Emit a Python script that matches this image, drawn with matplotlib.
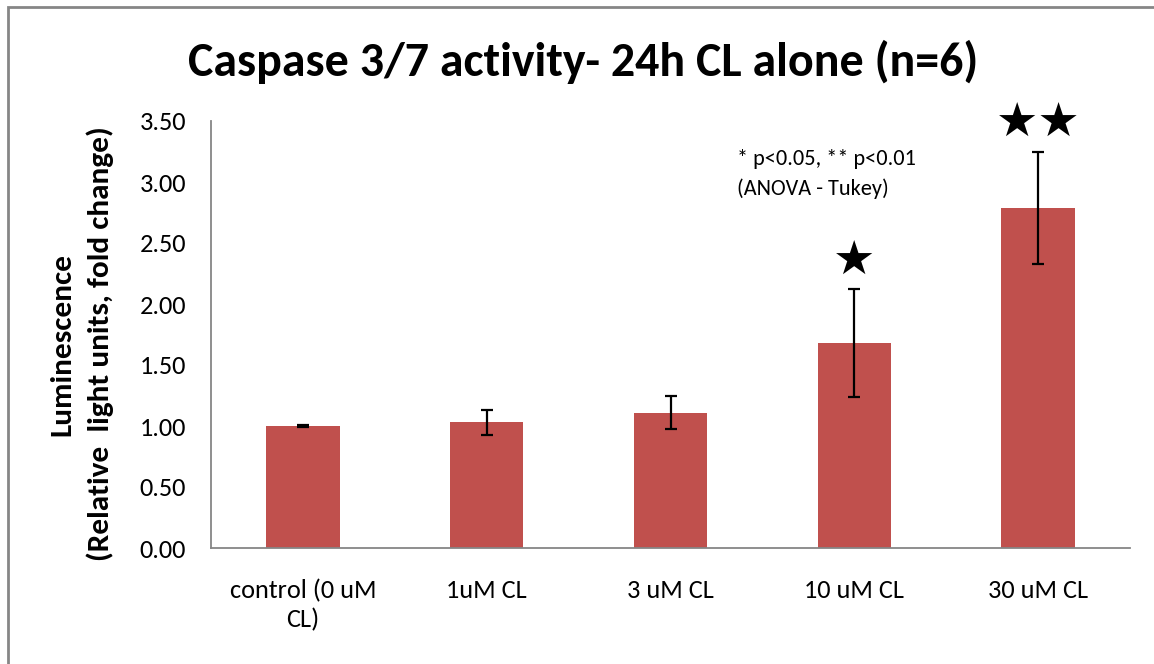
import matplotlib.pyplot as plt
from matplotlib.patches import Rectangle

plt.rcParams['font.family'] = ['Carlito', 'Open Sans', 'DejaVu Sans']

groups = ['control (0 uM\nCL)', '1uM CL', '3 uM CL', '10 uM CL', '30 uM CL']
fold_change = [1.00, 1.03, 1.11, 1.68, 2.79]
errors = [0.005, 0.10, 0.135, 0.44, 0.46]
stars = ['', '', '', '\u2605', '\u2605\u2605']

W, H = 1154, 664
fig = plt.figure(figsize=(W / 100, H / 100), dpi=100)
ax = fig.add_axes([211 / W, (H - 548) / H, 919 / W, 427 / H])

x = range(len(groups))
ax.bar(x, fold_change, width=0.4, color='#C0504D',
       yerr=errors, capsize=4.5,
       error_kw=dict(ecolor='black', elinewidth=1.6, capthick=1.6))

for i, s in enumerate(stars):
    if s:
        ax.text(i, fold_change[i] + errors[i] + 0.22, s, ha='center',
                va='center', fontsize=34, family='DejaVu Sans')

ax.set_xlim(-0.5, len(groups) - 0.5)
ax.set_ylim(0, 3.5)
ax.set_yticks([i * 0.5 for i in range(8)])
ax.set_yticklabels(['%.2f' % (i * 0.5) for i in range(8)], fontsize=19)
ax.set_xticks(list(x))
ax.set_xticklabels(groups, fontsize=19, linespacing=1.3)
ax.tick_params(length=0, pad=18)
ax.tick_params(axis='x', pad=22)

for side in ['top', 'right']:
    ax.spines[side].set_visible(False)
for side in ['left', 'bottom']:
    ax.spines[side].set_color('#868686')
    ax.spines[side].set_linewidth(1.3)

fig.text(82 / W, 1 - 344 / H, 'Luminescence\n(Relative  light units, fold change)',
         rotation=90, ha='center', va='center', multialignment='center',
         fontsize=22.5, fontweight='bold', linespacing=1.5)

fig.text(583 / W, 1 - 62 / H, 'Caspase 3/7 activity- 24h CL alone (n=6)',
         ha='center', va='center', fontsize=34.5, fontweight='bold')
fig.text(737 / W, 1 - 174 / H, '* p<0.05, ** p<0.01\n(ANOVA - Tukey)',
         ha='left', va='center', fontsize=16, linespacing=1.55)

# outer chart border
fig.patches.append(Rectangle((8 / W, -0.1), 1.2, 1.1 - 7 / H,
                             transform=fig.transFigure, fill=False,
                             edgecolor='#868686', linewidth=2))

fig.savefig('out.png', dpi=100)
